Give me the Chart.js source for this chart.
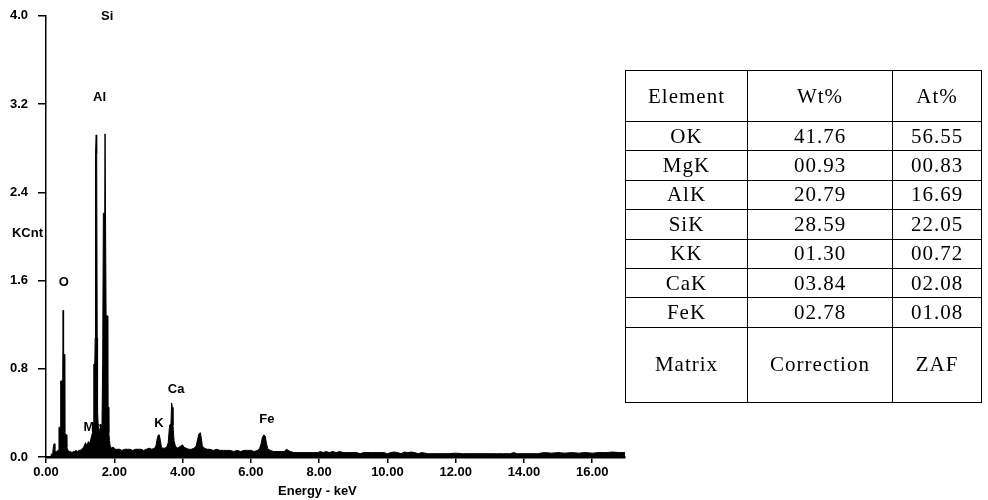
<!DOCTYPE html>
<html>
<head>
<meta charset="utf-8">
<script src="https://cdn.jsdelivr.net/npm/chart.js@4.4.1/dist/chart.umd.min.js"></script>
<style>
  html, body { margin: 0; padding: 0; background: #fff; }
  #wrap { position: relative; width: 988px; height: 500px; overflow: hidden; }
  #c { position: absolute; left: 0; top: 0; }
  #tbl { position: absolute; left: 625px; top: 70px; border-collapse: collapse;
         font-family: "Liberation Serif", "Times New Roman", serif; font-size: 21px; color: #000;
         letter-spacing: 1px; table-layout: fixed; }
  #tbl td { border: 1px solid #000; text-align: center; vertical-align: middle; padding: 0; line-height: 1; }
  #tbl tr.h td { height: 50px; }
  #tbl tr.d td { height: 28.4px; }
  #tbl tr.m td { height: 74px; }
</style>
</head>
<body>
<div id="wrap">
  <canvas id="c" width="640" height="500"></canvas>
  <table id="tbl"></table>
</div>
<script>
// ---- Spectrum data (energy in keV, counts in KCnt) ----
const energy = [
  0.00, 0.14, 0.16, 0.18, 0.20, 0.22, 0.24, 0.26, 0.28, 0.30, 0.32, 0.34, 0.36,
  0.38, 0.42, 0.43, 0.48, 0.49, 0.50, 0.51, 0.52, 0.54, 0.55, 0.60, 0.61, 0.64,
  0.68, 0.72, 0.76, 0.80, 0.84, 0.88, 0.92, 0.96, 1.00, 1.04, 1.08, 1.12, 1.16,
  1.20, 1.24, 1.28, 1.32, 1.36, 1.38, 1.40, 1.43, 1.44, 1.45, 1.47, 1.48, 1.49,
  1.50, 1.51, 1.53, 1.56, 1.60, 1.64, 1.66, 1.68, 1.72, 1.73, 1.75, 1.76, 1.80,
  1.81, 1.83, 1.84, 1.86, 1.88, 1.92, 1.96, 2.00, 2.04, 2.10, 2.16, 2.22, 2.30,
  2.38, 2.46, 2.54, 2.62, 2.70, 2.78, 2.86, 2.94, 3.02, 3.10, 3.18, 3.22, 3.26,
  3.29, 3.32, 3.35, 3.38, 3.42, 3.48, 3.54, 3.58, 3.62, 3.66, 3.68, 3.70, 3.72,
  3.75, 3.79, 3.84, 3.90, 3.95, 4.00, 4.04, 4.10, 4.18, 4.26, 4.34, 4.40, 4.44,
  4.48, 4.52, 4.55, 4.58, 4.64, 4.72, 4.80, 4.90, 5.00, 5.10, 5.20, 5.30, 5.40,
  5.50, 5.60, 5.70, 5.80, 5.90, 6.00, 6.10, 6.20, 6.26, 6.30, 6.34, 6.38, 6.42,
  6.46, 6.50, 6.58, 6.66, 6.74, 6.82, 6.90, 6.98, 7.04, 7.10, 7.16, 7.26, 7.36,
  7.46, 7.56, 7.66, 7.76, 7.86, 7.96, 8.04, 8.12, 8.20, 8.30, 8.40, 8.50, 8.60,
  8.70, 8.80, 8.90, 9.00, 9.10, 9.20, 9.30, 9.40, 9.50, 9.60, 9.70, 9.80, 9.90,
  10.00, 10.10, 10.20, 10.30, 10.40, 10.50, 10.60, 10.70, 10.80, 10.90, 11.00,
  11.20, 11.40, 11.60, 11.80, 12.00, 12.20, 12.40, 12.60, 12.80, 13.00, 13.20,
  13.40, 13.60, 13.70, 13.80, 14.00, 14.20, 14.40, 14.60, 14.80, 15.00, 15.20,
  15.40, 15.60, 15.80, 16.00, 16.20, 16.40, 16.60, 16.80, 16.96
];
const kcnt = [
  0.00, 0.00, 0.03, 0.02, 0.05, 0.10, 0.12, 0.07, 0.04, 0.05, 0.04, 0.06, 0.06,
  0.27, 0.27, 0.69, 0.69, 0.72, 1.33, 1.33, 0.93, 0.93, 0.22, 0.20, 0.09, 0.06,
  0.05, 0.05, 0.04, 0.05, 0.05, 0.06, 0.05, 0.06, 0.06, 0.07, 0.08, 0.10, 0.13,
  0.10, 0.14, 0.12, 0.17, 0.22, 0.30, 0.84, 0.85, 1.08, 2.75, 2.92, 2.92, 2.75,
  1.08, 0.42, 0.28, 0.24, 0.22, 0.30, 0.85, 2.21, 2.21, 2.93, 2.93, 1.28, 1.28,
  0.45, 0.45, 0.22, 0.15, 0.10, 0.08, 0.09, 0.08, 0.07, 0.07, 0.07, 0.06, 0.07,
  0.07, 0.07, 0.06, 0.07, 0.07, 0.07, 0.06, 0.07, 0.08, 0.07, 0.08, 0.10, 0.17,
  0.20, 0.20, 0.15, 0.09, 0.08, 0.08, 0.09, 0.13, 0.29, 0.30, 0.49, 0.45, 0.29,
  0.15, 0.10, 0.08, 0.09, 0.10, 0.11, 0.09, 0.08, 0.07, 0.07, 0.08, 0.10, 0.16,
  0.21, 0.22, 0.17, 0.10, 0.08, 0.07, 0.07, 0.06, 0.07, 0.06, 0.06, 0.06, 0.06,
  0.05, 0.06, 0.05, 0.06, 0.06, 0.06, 0.05, 0.06, 0.08, 0.12, 0.18, 0.20, 0.19,
  0.12, 0.07, 0.06, 0.05, 0.05, 0.05, 0.05, 0.05, 0.07, 0.06, 0.05, 0.04, 0.04,
  0.04, 0.04, 0.04, 0.04, 0.04, 0.04, 0.05, 0.04, 0.05, 0.04, 0.05, 0.04, 0.05,
  0.04, 0.04, 0.04, 0.04, 0.04, 0.03, 0.04, 0.04, 0.04, 0.04, 0.04, 0.04, 0.04,
  0.03, 0.04, 0.045, 0.04, 0.03, 0.045, 0.04, 0.045, 0.04, 0.03, 0.04,
  0.03, 0.03, 0.03, 0.03, 0.035, 0.03, 0.03, 0.03, 0.03, 0.03, 0.03,
  0.03, 0.03, 0.04, 0.03, 0.03, 0.03, 0.03, 0.04, 0.035, 0.04, 0.035,
  0.04, 0.035, 0.04, 0.035, 0.04, 0.04, 0.045, 0.04, 0.04
];

// ---- Tick labels ----
const xTickLabels = ['0.00', '2.00', '4.00', '6.00', '8.00', '10.00', '12.00', '14.00', '16.00'];
const yTickLabels = ['0.0', '0.8', '1.6', '2.4', '3.2', '4.0'];

// ---- Peak labels (element, anchor energy keV, anchor KCnt) ----
const peakNames = ['O', 'Mg', 'Al', 'Si', 'K', 'Ca', 'Fe'];
const peakLabelE = [0.525, 1.375, 1.57, 1.79, 3.31, 3.81, 6.47];
const peakLabelY = [1.584, 0.27, 3.26, 3.995, 0.30, 0.61, 0.34];

// ---- Quantification table ----
const tableHeader = ['Element', 'Wt%', 'At%'];
const tableElements = ['OK', 'MgK', 'AlK', 'SiK', 'KK', 'CaK', 'FeK'];
const wtPct = ['41.76', '00.93', '20.79', '28.59', '01.30', '03.84', '02.78'];
const atPct = ['56.55', '00.83', '16.69', '22.05', '00.72', '02.08', '01.08'];
const tableFooter = ['Matrix', 'Correction', 'ZAF'];

// build table
(function () {
  const t = document.getElementById('tbl');
  const cg = document.createElement('colgroup');
  [122, 145, 89].forEach(w => { const c = document.createElement('col'); c.style.width = w + 'px'; cg.appendChild(c); });
  t.appendChild(cg);
  function row(cls, cells) {
    const tr = document.createElement('tr'); tr.className = cls;
    cells.forEach(v => { const td = document.createElement('td'); td.textContent = v; tr.appendChild(td); });
    t.appendChild(tr);
  }
  row('h', tableHeader);
  tableElements.forEach((el, i) => row('d', [el, wtPct[i], atPct[i]]));
  row('m', tableFooter);
})();

const FONT = '"Liberation Sans", Arial, sans-serif';

const textPlugin = {
  id: 'texts',
  beforeDatasetsDraw(chart) {
    const { ctx, scales: { x, y } } = chart;
    ctx.save();
    ctx.fillStyle = '#000';
    ctx.font = 'bold 13px ' + FONT;
    ctx.textBaseline = 'middle';
    ctx.textAlign = 'center';
    peakNames.forEach((n, i) => {
      ctx.fillText(n, x.getPixelForValue(peakLabelE[i]), y.getPixelForValue(peakLabelY[i]));
    });
    // y axis title
    ctx.textAlign = 'right';
    ctx.fillText('KCnt', 43, y.getPixelForValue(2.03));
    // x axis title
    ctx.textAlign = 'center';
    ctx.fillText('Energy - keV', x.getPixelForValue(7.95), 491);
    ctx.restore();
  }
};

new Chart(document.getElementById('c'), {
  type: 'line',
  data: {
    datasets: [{
      data: energy.map((e, i) => ({ x: e, y: kcnt[i] })),
      borderColor: '#000',
      backgroundColor: '#000',
      borderWidth: 1,
      pointRadius: 0,
      fill: 'origin',
      tension: 0
    }]
  },
  options: {
    responsive: false,
    animation: false,
    layout: { padding: { left: 10, top: 15, right: 15, bottom: 0 } },
    plugins: { legend: { display: false }, tooltip: { enabled: false } },
    scales: {
      x: {
        type: 'linear', min: 0, max: 16.96,
        ticks: {
          stepSize: 2, includeBounds: false, autoSkip: false, maxRotation: 0,
          padding: 2, color: '#000', font: { family: FONT, size: 13, weight: 'bold' },
          callback: (v, i) => xTickLabels[i]
        },
        grid: { drawOnChartArea: false, drawTicks: true, tickLength: 6, color: '#000', lineWidth: 1.5 },
        border: { color: '#000', width: 2.5 },
        afterFit(s) { s.height = 43; }
      },
      y: {
        min: 0, max: 4,
        ticks: {
          stepSize: 0.8, crossAlign: 'far', padding: 8, color: '#000',
          font: { family: FONT, size: 13, weight: 'bold' },
          callback: (v, i) => yTickLabels[i]
        },
        grid: { drawOnChartArea: false, drawTicks: true, tickLength: 8, color: '#000', lineWidth: 1.5 },
        border: { color: '#000', width: 1.5 },
        afterFit(s) { s.width = 36; }
      }
    }
  },
  plugins: [textPlugin]
});
</script>
</body>
</html>
